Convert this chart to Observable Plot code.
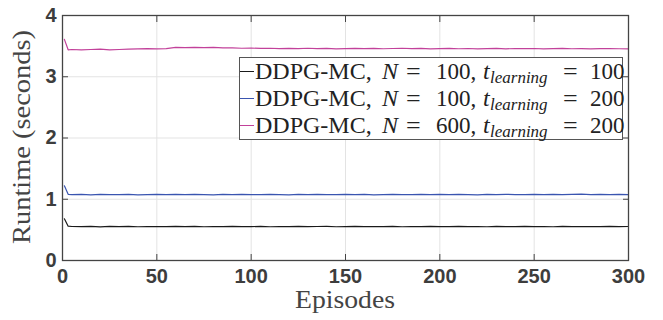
<!DOCTYPE html>
<html>
<head>
<meta charset="utf-8">
<script src="https://cdn.jsdelivr.net/npm/d3@7"></script>
<script src="https://cdn.jsdelivr.net/npm/@observablehq/plot@0.6"></script>
<style>
  html, body { margin: 0; padding: 0; background: #fff; }
  #wrap { position: relative; width: 663px; height: 320px; }
  #legend {
    position: absolute; left: 239px; top: 57px; width: 384px; height: 83px;
    border: 1px solid #555; background: #fff; box-sizing: border-box;
    font-family: "Liberation Serif", "DejaVu Serif", serif; font-size: 24px; color: #222;
  }
  #legend .row { position: absolute; left: 0; width: 100%; height: 27px; white-space: nowrap; }
  #legend .row span { position: absolute; top: 0; line-height: 27px; }
  #legend .num { font-size: 23px; }
  #legend .eq { font-size: 26px; }
  #legend .sw { width: 14px; height: 0; border-top: 1.5px solid; top: 13px !important; }
  #legend .sub { font-size: 17px; font-style: italic; top: 6px !important; }
</style>
</head>
<body>
<div id="wrap"></div>
<script>
const episodes = [1, 3, 5, 10, 15, 20, 25, 30, 35, 40, 45, 50, 55, 60, 65, 70, 75, 80, 85, 90, 95, 100,
  105, 110, 115, 120, 125, 130, 135, 140, 145, 150, 155, 160, 165, 170, 175, 180, 185, 190, 195, 200,
  205, 210, 215, 220, 225, 230, 235, 240, 245, 250, 255, 260, 265, 270, 275, 280, 285, 290, 295, 300];

const blackSeries = [0.68, 0.56, 0.555, 0.552, 0.558, 0.550, 0.556, 0.553, 0.557, 0.551, 0.555, 0.554, 0.552, 0.556, 0.553, 0.557, 0.551, 0.555, 0.552, 0.556, 0.554, 0.553,
  0.557, 0.551, 0.555, 0.553, 0.556, 0.552, 0.555, 0.558, 0.551, 0.554, 0.556, 0.552, 0.555, 0.553, 0.557, 0.551, 0.555, 0.552, 0.556, 0.554,
  0.552, 0.557, 0.553, 0.555, 0.551, 0.556, 0.554, 0.552, 0.557, 0.553, 0.555, 0.551, 0.556, 0.554, 0.552, 0.555, 0.553, 0.556, 0.552, 0.555];

const blueSeries = [1.22, 1.08, 1.075, 1.078, 1.072, 1.080, 1.076, 1.074, 1.079, 1.073, 1.077, 1.081, 1.075, 1.078, 1.074, 1.079, 1.076, 1.072, 1.078, 1.075, 1.080, 1.077,
  1.074, 1.079, 1.076, 1.073, 1.078, 1.075, 1.080, 1.074, 1.077, 1.079, 1.075, 1.078, 1.073, 1.077, 1.080, 1.076, 1.074, 1.079, 1.075, 1.078,
  1.074, 1.080, 1.076, 1.073, 1.078, 1.075, 1.079, 1.077, 1.074, 1.081, 1.076, 1.078, 1.075, 1.080, 1.084, 1.077, 1.079, 1.075, 1.078, 1.076];

const magentaSeries = [3.61, 3.44, 3.445, 3.44, 3.445, 3.45, 3.44, 3.445, 3.45, 3.455, 3.46, 3.455, 3.46, 3.48, 3.475, 3.48, 3.475, 3.478, 3.472, 3.47, 3.465, 3.468,
  3.462, 3.465, 3.458, 3.462, 3.46, 3.465, 3.458, 3.462, 3.456, 3.46, 3.464, 3.458, 3.462, 3.457, 3.461, 3.465, 3.459, 3.462, 3.456, 3.46,
  3.463, 3.457, 3.461, 3.455, 3.459, 3.462, 3.456, 3.46, 3.458, 3.461, 3.455, 3.459, 3.462, 3.457, 3.46, 3.456, 3.459, 3.461, 3.457, 3.455];

const seriesNames = ["N100_t100", "N100_t200", "N600_t200"];
const seriesColors = ["#1a1a1a", "#3a55b0", "#c2419a"];
const legendN = ["100", "100", "600"];
const legendT = ["100", "200", "200"];
const xTicks = [0, 50, 100, 150, 200, 250, 300];
const yTicks = [0, 1, 2, 3, 4];

const allValues = [blackSeries, blueSeries, magentaSeries];
const rows = [];
allValues.forEach((vals, s) => {
  episodes.forEach((e, i) => rows.push({episode: e, runtime: vals[i], series: seriesNames[s]}));
});

const sans = "'Liberation Sans', Arial, sans-serif";

const chart = Plot.plot({
  width: 663,
  height: 320,
  marginLeft: 62,
  marginRight: 35,
  marginTop: 15,
  marginBottom: 60,
  style: { background: "#fff", overflow: "visible" },
  x: { domain: [0, 300], label: null },
  y: { domain: [0, 4], label: null },
  color: { domain: seriesNames, range: seriesColors },
  marks: [
    Plot.gridX(xTicks, { stroke: "#e3e3e3", strokeOpacity: 1, strokeWidth: 1 }),
    Plot.gridY(yTicks, { stroke: "#e3e3e3", strokeOpacity: 1, strokeWidth: 1 }),
    Plot.line(rows, { x: "episode", y: "runtime", z: "series", stroke: "series", strokeWidth: 1.2 }),
    Plot.frame({ stroke: "#444", strokeWidth: 1.3 }),
    Plot.axisX(xTicks, { tickSize: -6, stroke: "#444", tickPadding: 14, tickFormat: "d", fontSize: 20, fontWeight: "bold", fill: "#3d3d3d", fontFamily: sans }),
    Plot.axisX(xTicks, { anchor: "top", tickSize: -6, stroke: "#444", text: null, label: null }),
    Plot.axisY(yTicks, { tickSize: -6, stroke: "#444", tickPadding: 12, tickFormat: "d", fontSize: 20, fontWeight: "bold", fill: "#3d3d3d", fontFamily: sans }),
    Plot.axisY(yTicks, { anchor: "right", tickSize: -6, stroke: "#444", text: null, label: null })
  ]
});

const wrap = document.getElementById("wrap");
wrap.appendChild(chart);

const svg = d3.select(chart);
svg.append("text")
  .attr("x", 345).attr("y", 308)
  .attr("text-anchor", "middle")
  .attr("font-family", "'Liberation Serif', 'DejaVu Serif', serif")
  .attr("font-size", 25).attr("fill", "#444")
  .attr("textLength", 100).attr("lengthAdjust", "spacingAndGlyphs")
  .text("Episodes");
svg.append("text")
  .attr("transform", "translate(30,137) rotate(-90)")
  .attr("text-anchor", "middle")
  .attr("font-family", "'Liberation Serif', 'DejaVu Serif', serif")
  .attr("font-size", 25).attr("fill", "#444")
  .attr("textLength", 214).attr("lengthAdjust", "spacingAndGlyphs")
  .text("Runtime (seconds)");

// Legend
const legend = document.createElement("div");
legend.id = "legend";
const rowTops = [0, 27, 54];
legendN.forEach((n, i) => {
  const row = document.createElement("div");
  row.className = "row";
  row.style.top = rowTops[i] + "px";
  row.innerHTML =
    `<span class="sw" style="left:0;border-color:${seriesColors[i]}"></span>` +
    `<span style="left:15px">DDPG-MC,</span>` +
    `<span style="left:142px"><i>N</i></span>` +
    `<span class="eq" style="left:166px">=</span>` +
    `<span class="num" style="left:196px">${n},</span>` +
    `<span style="left:243px"><i>t</i></span>` +
    `<span class="sub" style="left:250px">learning</span>` +
    `<span class="eq" style="left:323px">=</span>` +
    `<span class="num" style="left:350px">${legendT[i]}</span>`;
  legend.appendChild(row);
});
wrap.appendChild(legend);
</script>
</body>
</html>
